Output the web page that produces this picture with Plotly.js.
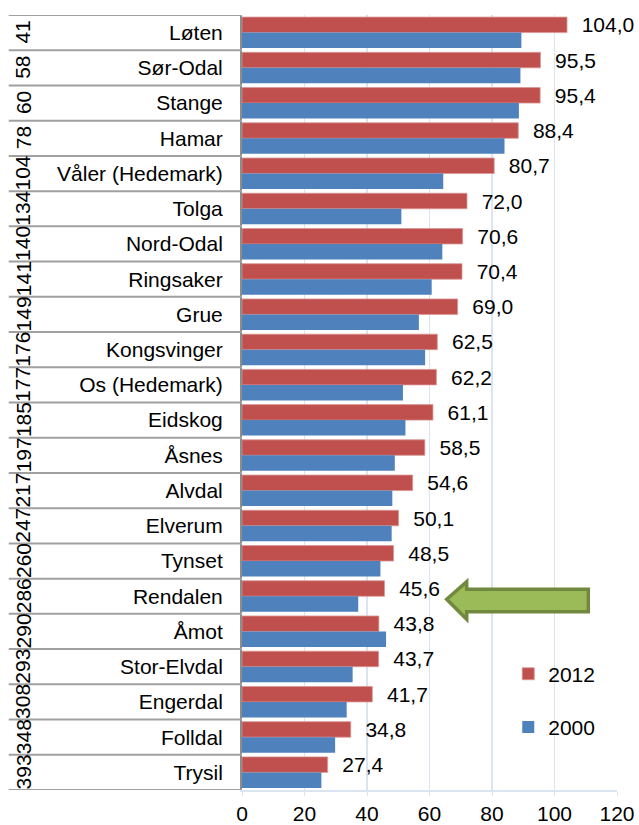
<!DOCTYPE html>
<html>
<head>
<meta charset="utf-8">
<script src="https://cdn.plot.ly/plotly-3.0.1.min.js"></script>
<style>
  html, body { margin: 0; padding: 0; background: #fff; }
  #graph { width: 639px; height: 825px; }
</style>
</head>
<body>
<div id="graph"></div>
<script>
// kommuner, sortert etter plass
var kommuner = ["Løten", "Sør-Odal", "Stange", "Hamar", "Våler (Hedemark)", "Tolga",
    "Nord-Odal", "Ringsaker", "Grue", "Kongsvinger", "Os (Hedemark)", "Eidskog",
    "Åsnes", "Alvdal", "Elverum", "Tynset", "Rendalen", "Åmot", "Stor-Elvdal",
    "Engerdal", "Folldal", "Trysil"];
var plass = [41, 58, 60, 78, 104, 134, 140, 141, 149, 176, 177, 185, 197, 217, 247,
    260, 286, 290, 293, 308, 348, 393];
var verdi2012 = [104.0, 95.5, 95.4, 88.4, 80.7, 72.0, 70.6, 70.4, 69.0, 62.5, 62.2,
    61.1, 58.5, 54.6, 50.1, 48.5, 45.6, 43.8, 43.7, 41.7, 34.8, 27.4];
var verdi2000 = [89.4, 89.1, 88.6, 84.0, 64.4, 51.0, 64.1, 60.7, 56.6, 58.6, 51.5,
    52.3, 48.9, 48.1, 47.9, 44.3, 37.2, 46.1, 35.4, 33.5, 29.8, 25.4];
var xTicks = [0, 20, 40, 60, 80, 100, 120];

function drawGraph() {
    var font = "Liberation Sans, Arial, sans-serif";
    var gridBlue = "#dbe5f1";

    var trace2012 = {
        y: kommuner,
        x: verdi2012,
        type: "bar",
        orientation: "h",
        name: "2012",
        legendgroup: "a",
        marker: { color: "#c0504d", line: { color: "#d99694", width: 0.8 } },
        texttemplate: "\u00a0\u00a0%{x:.1f}",
        textposition: "outside",
        constraintext: "none",
        cliponaxis: false,
        textfont: { family: font, size: 21, color: "#000" },
        hoverinfo: "x+y"
    };
    var trace2000 = {
        y: kommuner,
        x: verdi2000,
        type: "bar",
        orientation: "h",
        name: "2000",
        legendgroup: "b",
        marker: { color: "#4f81bd" },
        hoverinfo: "x+y"
    };

    // rad-linjer og plassnummer i tabellen til venstre
    var shapes = [];
    var annotations = [];
    for (var i = 0; i <= kommuner.length; i++) {
        shapes.push({
            type: "line", xref: "paper", yref: "y",
            x0: -0.622, x1: 0, y0: i - 0.5, y1: i - 0.5,
            line: { color: "#a0a0a0", width: 2 }
        });
    }
    for (var j = 0; j < plass.length; j++) {
        annotations.push({
            xref: "paper", yref: "y", x: -0.584, y: kommuner[j],
            xanchor: "center", yanchor: "middle",
            text: String(plass[j]), textangle: -90, showarrow: false,
            font: { family: font, size: 21, color: "#000" }
        });
    }

    // grønn pil mot Rendalen
    shapes.push({
        type: "path", xref: "paper", yref: "paper",
        path: "M0.5459,0.2461 L0.5992,0.2688 L0.5992,0.2590 L0.9235,0.2590 " +
              "L0.9235,0.2301 L0.5992,0.2301 L0.5992,0.2203 Z",
        fillcolor: "#9bbb59",
        line: { color: "#71893f", width: 3.5 }
    });

    var layout = {
        width: 639,
        height: 825,
        margin: { l: 242, r: 22, t: 15, b: 35 },
        paper_bgcolor: "#fff",
        plot_bgcolor: "#fff",
        separators: ", ",
        font: { family: font, size: 21, color: "#000" },
        barmode: "group",
        bargap: 0.12,
        bargroupgap: 0,
        showlegend: true,
        legend: {
            x: 0.71, y: 0.176, xanchor: "left", yanchor: "top",
            bgcolor: "rgba(0,0,0,0)",
            tracegroupgap: 23,
            font: { family: font, size: 21, color: "#000" }
        },
        xaxis: {
            range: [0, 120],
            tickvals: xTicks,
            showgrid: true,
            gridcolor: gridBlue,
            gridwidth: 1.5,
            zeroline: false,
            showline: true,
            linecolor: gridBlue,
            linewidth: 1.5,
            ticks: "outside",
            ticklen: 4,
            tickcolor: gridBlue,
            tickfont: { family: font, size: 21, color: "#000" }
        },
        yaxis: {
            type: "category",
            range: [kommuner.length - 0.5, -0.5],
            showgrid: false,
            zeroline: false,
            showline: true,
            linecolor: "#8c8c8c",
            linewidth: 2,
            ticks: "",
            ticklabelstandoff: 13,
            tickfont: { family: font, size: 21, color: "#000" }
        },
        shapes: shapes,
        annotations: annotations
    };

    Plotly.newPlot("graph", [trace2012, trace2000], layout, { displayModeBar: false, staticPlot: true });
}

drawGraph();
</script>
</body>
</html>
